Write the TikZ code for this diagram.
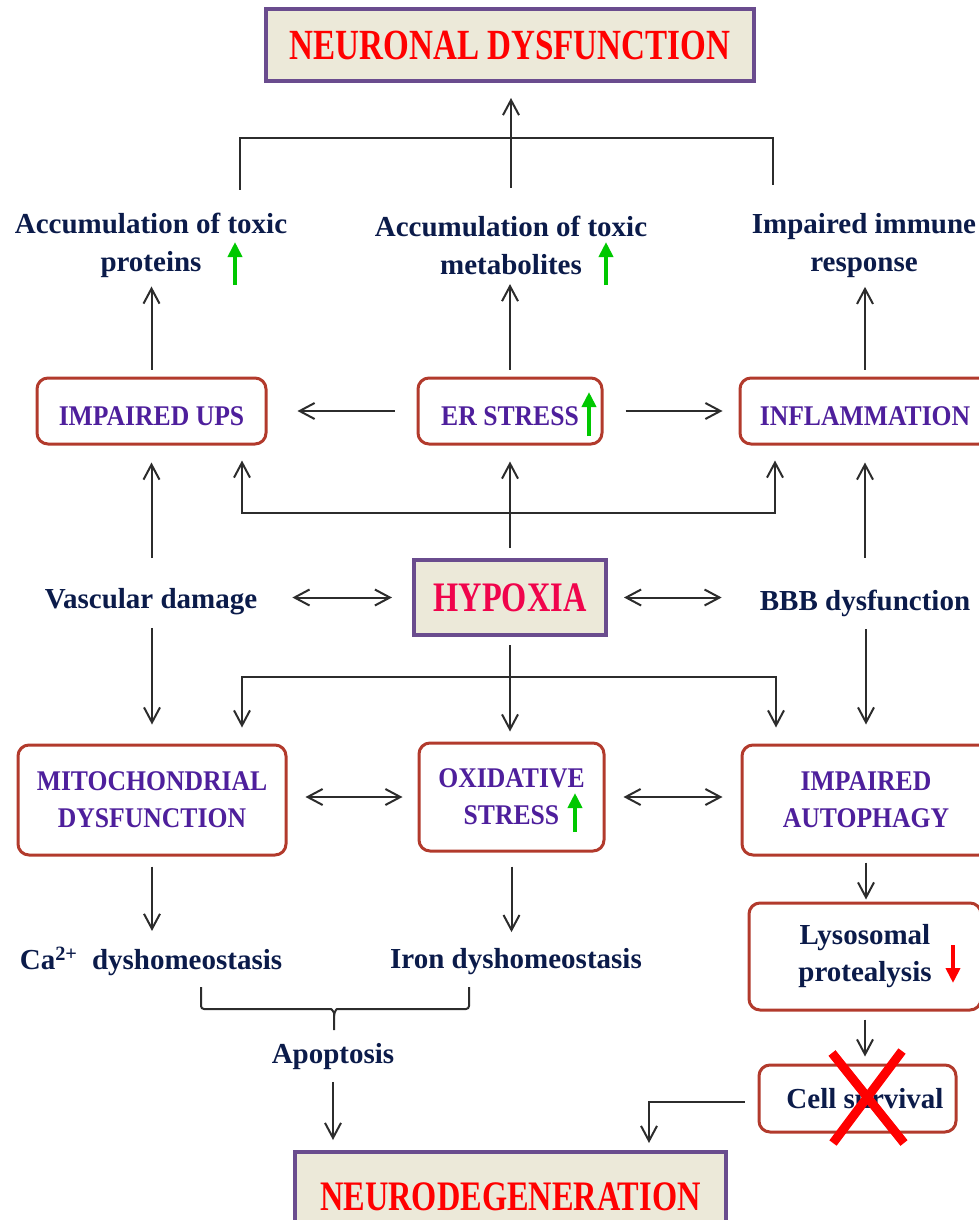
\documentclass[tikz,border=0pt]{standalone}
\usepackage{fontspec}
\setmainfont{Liberation Serif}
\newfontfamily\boxfont[FakeStretch=0.9]{Liberation Serif}
\newfontfamily\headfont[FakeStretch=0.77]{Liberation Serif}
\usetikzlibrary{arrows.meta}

\definecolor{boxred}{HTML}{B23A2C}
\definecolor{boxtext}{HTML}{4E1F9C}
\definecolor{headfill}{HTML}{ECE9D9}
\definecolor{headline}{HTML}{6A4C8E}
\definecolor{labtext}{HTML}{0B1B4A}
\definecolor{lncol}{HTML}{2C2C2C}
\definecolor{upgreen}{HTML}{00C800}
\definecolor{hypred}{HTML}{F0044C}

\begin{document}
\begin{tikzpicture}[x=1pt,y=-1pt,
  headbox/.style={draw=headline, line width=4pt, fill=headfill, inner sep=0pt,
    font=\headfont\bfseries\fontsize{42}{46}\selectfont, text=red},
  procbox/.style={draw=boxred, line width=3pt, rounded corners=11pt, fill=white,
    align=center, inner sep=0pt,
    font=\boxfont\bfseries\fontsize{28.5}{37}\selectfont, text=boxtext},
  oneline/.style={text height=28pt, text depth=0pt},
  lysobox/.style={procbox, font=\bfseries\fontsize{29}{37}\selectfont, text=labtext},
  lbl/.style={align=center, inner sep=2pt,
    font=\bfseries\fontsize{29}{38}\selectfont, text=labtext},
  ln/.style={draw=lncol, line width=2pt},
  arr/.style={ln, -{Straight Barb[length=15pt,width=16pt]}},
  dbl/.style={ln, {Straight Barb[length=15pt,width=16pt]}-{Straight Barb[length=15pt,width=16pt]}},
  upmark/.style={draw=upgreen, line width=4pt, -{Triangle[length=15pt,width=14pt]}},
  downmark/.style={draw=red, line width=4pt, -{Triangle[length=15pt,width=14pt]}},
  cross/.style={draw=red, line width=9pt}
]
\useasboundingbox (0,0) rectangle (979,1220);

% ---- top outcome ----
\node[headbox, minimum width=488pt, minimum height=72pt, font=\headfont\bfseries\fontsize{43}{46}\selectfont] (ndys) at (510,45) {NEURONAL DYSFUNCTION};

% ---- accumulation row ----
\node[lbl] (acc1) at (151,245) {Accumulation of toxic\\proteins};
\node[lbl] (acc2) at (511,245.5) {Accumulation of toxic\\metabolites};
\node[lbl] (imm) at (864,245.5) {Impaired immune\\response};
\draw[upmark] (235,285) -- (235,242);
\draw[upmark] (606,285) -- (606,242);

% ---- stress row ----
\node[procbox, oneline, minimum width=229pt, minimum height=66pt] (ups) at (151.5,411) {IMPAIRED UPS};
\node[procbox, oneline, minimum width=184pt, minimum height=66pt] (er) at (510,411) {ER STRESS};
\node[procbox, oneline, minimum width=250pt, minimum height=66pt] (infl) at (865,411) {INFLAMMATION};
\draw[upmark] (589,436) -- (589,392);

% ---- hypoxia row ----
\node[headbox, text=hypred, minimum width=192pt, minimum height=75pt] (hyp) at (510,597.5) {HYPOXIA};
\node[lbl] (vasc) at (151,601.5) {Vascular damage};
\node[lbl] (bbb) at (865,603.5) {BBB dysfunction};

% ---- damage row ----
\node[procbox, minimum width=268pt, minimum height=110pt] (mito) at (152,800) {MITOCHONDRIAL\\DYSFUNCTION};
\node[procbox, minimum width=185pt, minimum height=108pt] (oxi) at (511.5,797) {OXIDATIVE\\STRESS};
\node[procbox, minimum width=248pt, minimum height=110pt] (auto) at (866,800) {IMPAIRED\\AUTOPHAGY};
\draw[upmark] (575,832) -- (575,793);

% ---- homeostasis row ----
\node[lbl] (ca) at (151,961.5) {Ca\textsuperscript{2+}\ \ dyshomeostasis};
\node[lbl] (iron) at (516,961.5) {Iron dyshomeostasis};
\node[lysobox, minimum width=232pt, minimum height=107pt] (lyso) at (865,956.5) {Lysosomal\\protealysis};
\draw[downmark] (953,945) -- (953,983);

% ---- end points ----
\node[lbl] (apop) at (333,1056.5) {Apoptosis};
\node[lysobox, minimum width=197pt, minimum height=67pt] (cell) at (857.5,1098.5) {\hspace*{15pt}Cell survival};
\node[headbox, minimum width=431pt, minimum height=90pt] (ndeg) at (510.5,1197) {NEURODEGENERATION};

% ---- connectors: top ----
\coordinate (tl) at (240,138);
\coordinate (tr) at (773,138);
\draw[ln, shorten <=21pt, shorten >=26pt] (tl |- acc1.north) -- (tl) -- (tr) -- (tr |- imm.north);
\draw[arr, shorten <=26pt, shorten >=15pt] (acc2.north) -- (acc2.north |- ndys.south);
\draw[arr, shorten <=7pt, shorten >=7pt] (ups.north) -- (ups.north |- acc1.south);
\draw[arr, shorten <=7pt, shorten >=7pt] (er.north) -- (er.north |- acc2.south);
\draw[arr, shorten <=7pt, shorten >=7pt] (infl.north) -- (infl.north |- imm.south);

% ---- connectors: stress row ----
\draw[arr, shorten <=22pt, shorten >=30pt] (er.west) -- (er.west -| ups.east);
\draw[arr, shorten <=22pt, shorten >=16pt] (er.east) -- (er.east -| infl.west);
\draw[arr, shorten <=28pt, shorten >=17pt] (vasc.north -| ups.south) -- (ups.south);
\draw[arr, shorten <=30pt, shorten >=17pt] (bbb.north -| infl.south) -- (infl.south);
\draw[arr, shorten <=10pt, shorten >=16pt] (hyp.north) -- (hyp.north |- er.south);
\coordinate (ml) at (242,513);
\coordinate (mr) at (775,513);
\draw[dbl, shorten <=15pt, shorten >=15pt] (ml |- ups.south) -- (ml) -- (mr) -- (mr |- infl.south);

% ---- connectors: hypoxia row ----
\draw[dbl, shorten <=33pt, shorten >=20pt] (hyp.west -| vasc.east) -- (hyp.west);
\draw[dbl, shorten <=16pt, shorten >=36pt] (hyp.east) -- (hyp.east -| bbb.west);

% ---- connectors: damage row ----
\draw[arr, shorten <=11pt, shorten >=19pt] (vasc.south -| mito.north) -- (mito.north);
\draw[arr, shorten <=10pt, shorten >=19pt] (bbb.south -| auto.north) -- (auto.north);
\draw[arr, shorten <=8pt, shorten >=10pt] (hyp.south) -- (hyp.south |- oxi.north);
\coordinate (dl) at (242,677);
\coordinate (dr) at (776,677);
\draw[dbl, shorten <=16pt, shorten >=16pt] (dl |- mito.north) -- (dl) -- (dr) -- (dr |- auto.north);
\draw[dbl, shorten <=18pt, shorten >=15pt] (oxi.west -| mito.east) -- (oxi.west);
\draw[dbl, shorten <=18pt, shorten >=18pt] (oxi.east) -- (oxi.east -| auto.west);

% ---- connectors: lower part ----
\draw[arr, shorten <=10pt, shorten >=14pt] (mito.south) -- (mito.south |- ca.north);
\draw[arr, shorten <=14pt, shorten >=14pt] (oxi.south) -- (oxi.south |- iron.north);
\draw[arr, shorten <=6pt, shorten >=2pt] (auto.south) -- (auto.south |- lyso.north);
\draw[arr, shorten <=8pt, shorten >=7pt] (lyso.south) -- (lyso.south |- cell.north);

% brace joining the two dyshomeostasis labels
\draw[ln, rounded corners=3pt] (201,987) -- (201,1009) -- (328,1009) to[out=0,in=90] (334,1016) -- (334,1030);
\draw[ln, rounded corners=3pt] (469,987) -- (469,1009) -- (340,1009) to[out=180,in=90] (334,1016);

\draw[arr, shorten <=10pt, shorten >=10pt] (apop.south) -- (apop.south |- ndeg.north);
\coordinate (cj) at (649,1102);
\draw[arr, shorten <=13pt, shorten >=7pt] (cell.west |- cj) -- (cj) -- (cj |- ndeg.north);

% ---- cross over cell survival ----
\draw[cross] (832,1053) -- (904,1143);
\draw[cross] (902,1051) -- (833,1143);
\end{tikzpicture}
\end{document}
